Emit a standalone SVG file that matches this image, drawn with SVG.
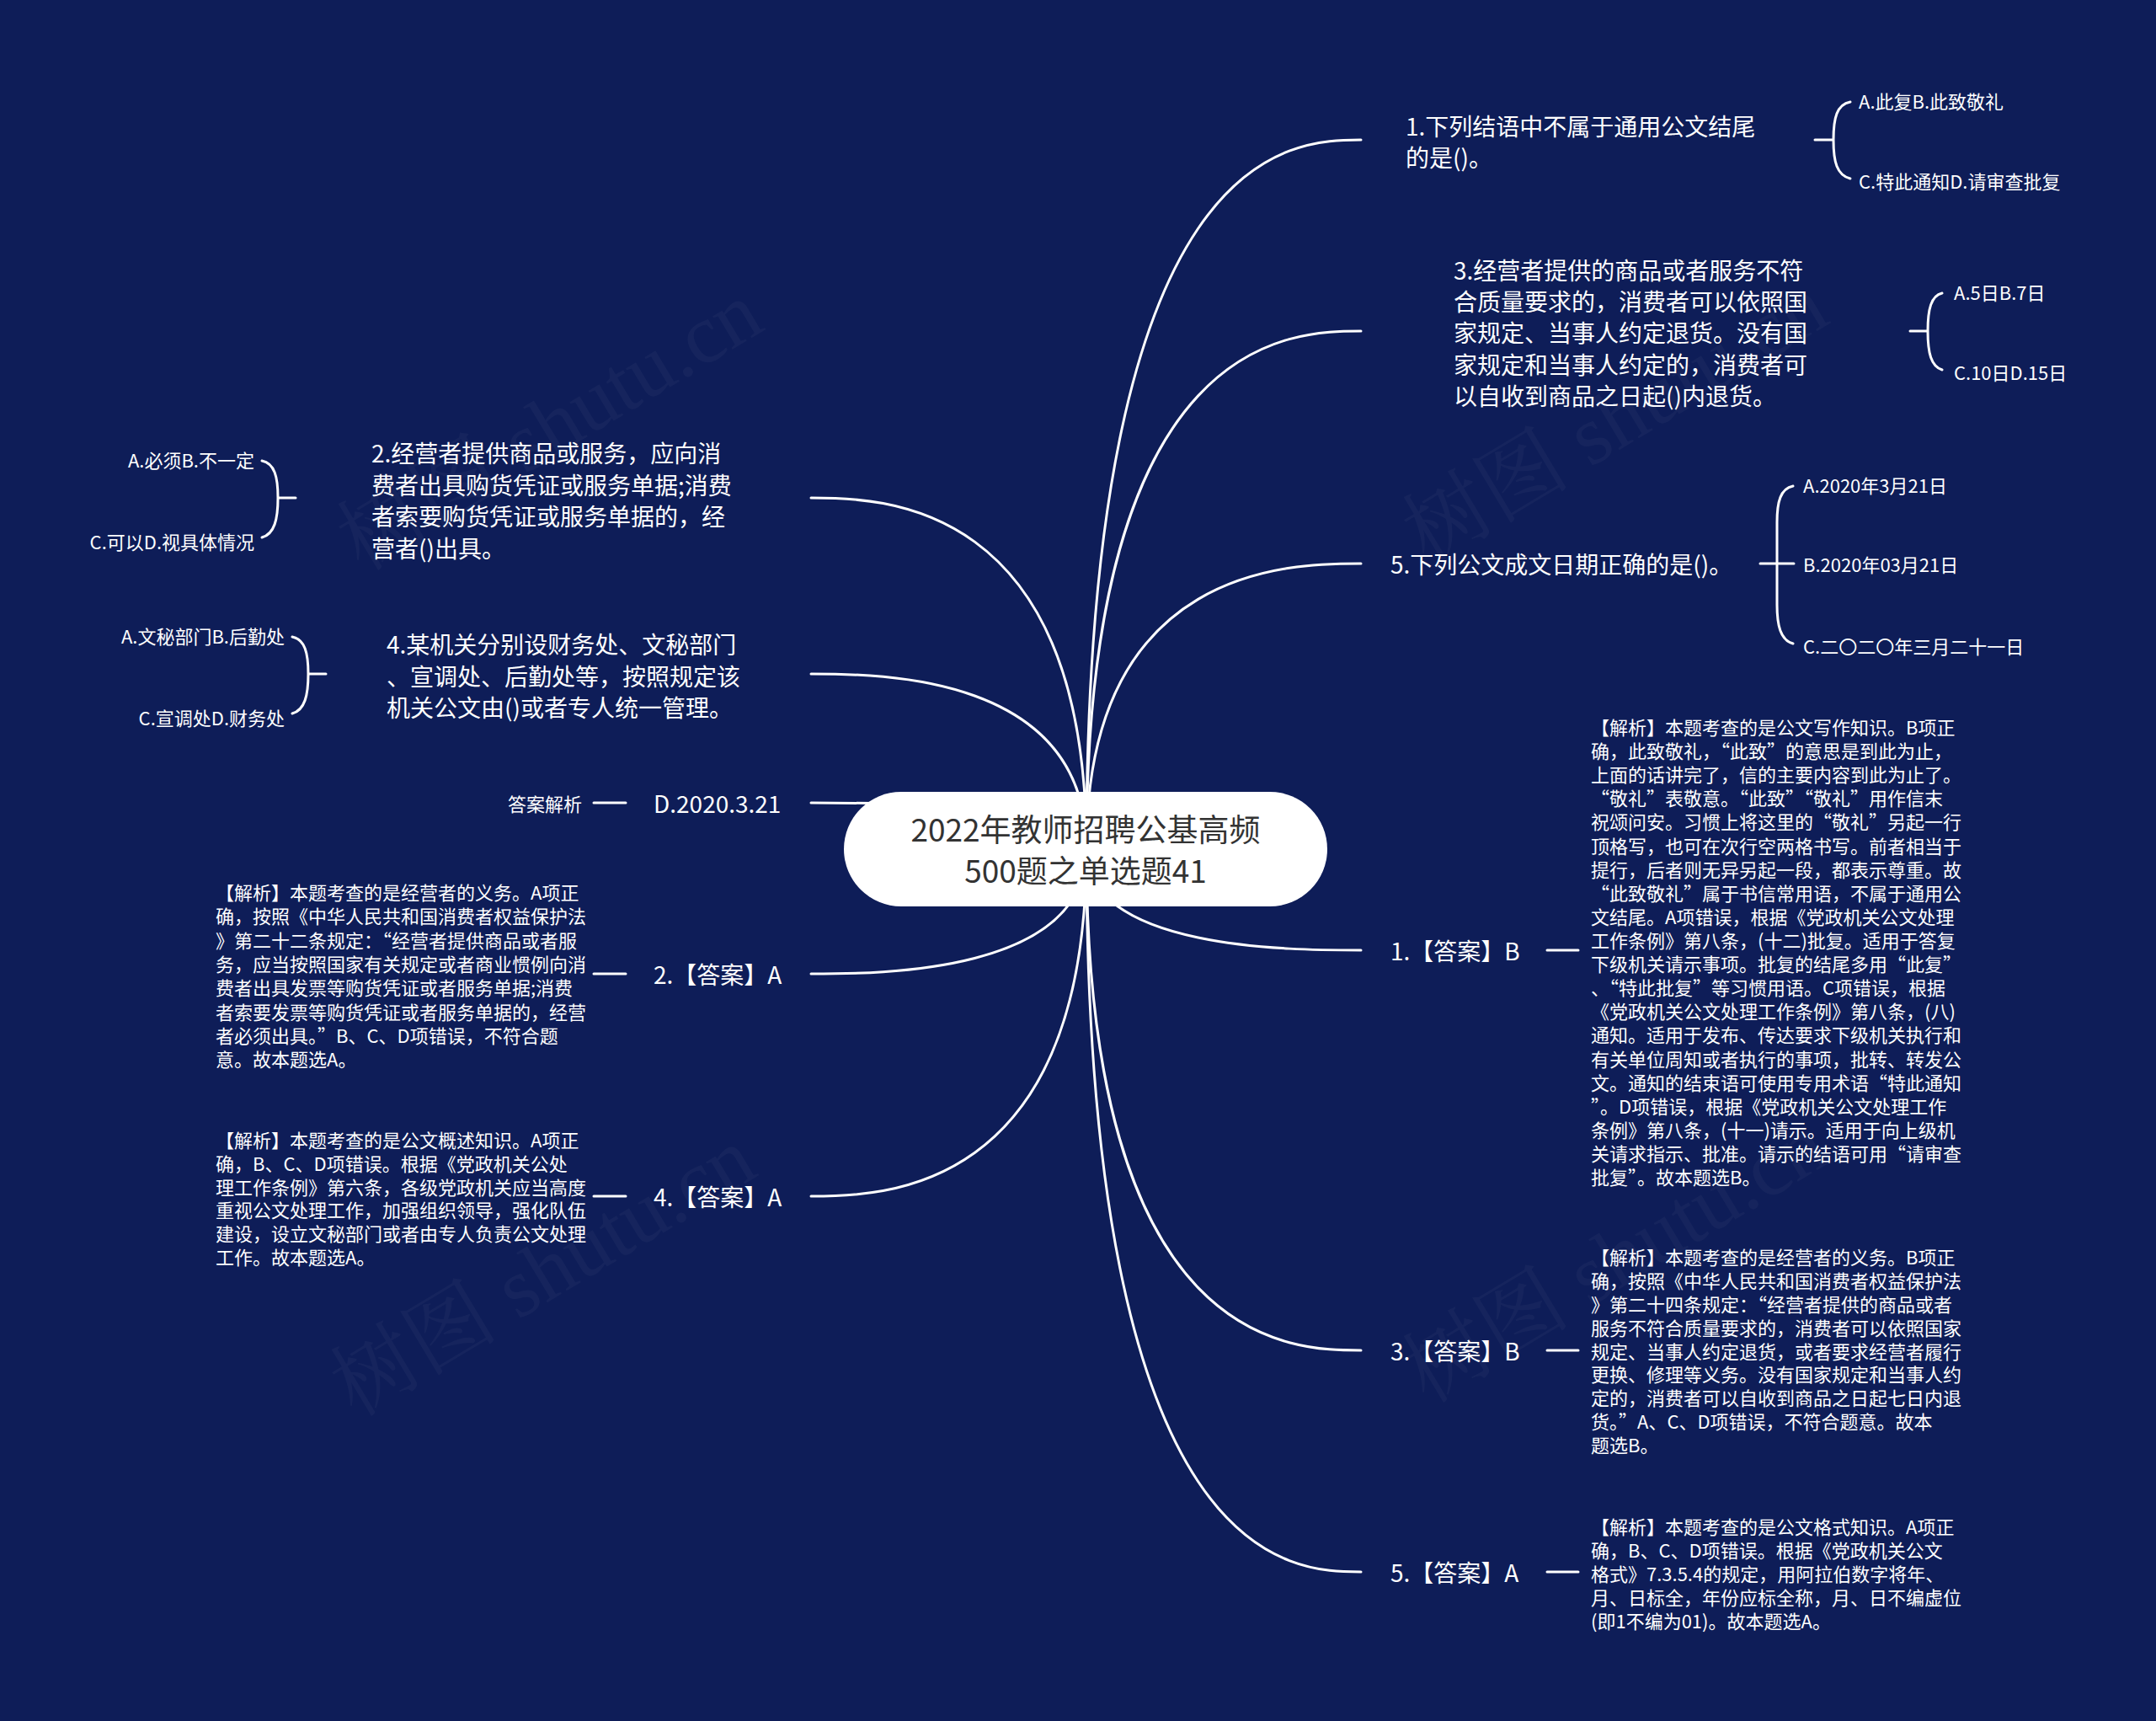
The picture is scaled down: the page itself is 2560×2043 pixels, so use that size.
<svg xmlns="http://www.w3.org/2000/svg" width="2560" height="2043" viewBox="0 0 2560 2043">
<style>
text{font-family:"Noto Sans CJK SC","Noto Sans",sans-serif;dominant-baseline:central}
.ln{fill:none;stroke:#fff;stroke-width:3;stroke-linecap:round}
.q{font-size:28px;fill:#fff}
.s{font-size:22px;fill:#fff}
.wm{font-family:"Liberation Serif","Noto Serif CJK SC","Noto Sans CJK SC",serif;font-size:100px;fill:#fff;fill-opacity:0.035}
</style>
<rect x="0" y="0" width="2560" height="2043" fill="#0e1d58"/>
<g id="watermarks">
<text class="wm" transform="translate(653,506) rotate(-31)" text-anchor="middle">树图 shutu.cn</text>
<text class="wm" transform="translate(645,1510) rotate(-31)" text-anchor="middle">树图 shutu.cn</text>
<text class="wm" transform="translate(1918,498) rotate(-31)" text-anchor="middle">树图 shutu.cn</text>
<text class="wm" transform="translate(1918,1494) rotate(-31)" text-anchor="middle">树图 shutu.cn</text>
</g>
<g id="connectors">
<path class="ln" d="M1290 1008 C1290 166 1535 166 1616 166"/>
<path class="ln" d="M1290 1008 C1290 393 1535 393 1616 393"/>
<path class="ln" d="M1290 1008 C1290 669 1535 669 1616 669"/>
<path class="ln" d="M1290 1008 C1290 1128 1535 1128 1616 1128"/>
<path class="ln" d="M1290 1008 C1290 1603 1535 1603 1616 1603"/>
<path class="ln" d="M1290 1008 C1290 1866 1535 1866 1616 1866"/>
<path class="ln" d="M1290 1008 C1290 591 1045 591 963 591"/>
<path class="ln" d="M1290 1008 C1290 800 1045 800 963 800"/>
<path class="ln" d="M1290 1008 C1290 953 1045 953 963 953"/>
<path class="ln" d="M1290 1008 C1290 1156 1045 1156 963 1156"/>
<path class="ln" d="M1290 1008 C1290 1420 1045 1420 963 1420"/>
<path class="ln" d="M2155 166 H2177 M2197 121 C2181 124 2177 140 2177 166 C2177 192 2181 208 2197 212"/>
<path class="ln" d="M2268 393 H2289 M2306 348 C2293 351 2289 367 2289 393 C2289 419 2293 435 2306 439"/>
<path class="ln" d="M2090 669 H2130 M2129 577 C2114 580 2110 596 2110 620 L2110 718 C2110 742 2114 760 2129 764"/>
<path class="ln" d="M1837 1128 H1874"/>
<path class="ln" d="M1837 1603 H1874"/>
<path class="ln" d="M1837 1866 H1874"/>
<path class="ln" d="M351 591 H330 M311 547 C326 550 330 566 330 591 C330 616 326 634 311 638"/>
<path class="ln" d="M387 800 H366 M347 756 C362 759 366 775 366 800 C366 825 362 843 347 847"/>
<path class="ln" d="M705 953 H743"/>
<path class="ln" d="M705 1156 H743"/>
<path class="ln" d="M705 1420 H743"/>
</g>
<g id="root">
<rect x="1002" y="940" width="574" height="136" rx="68" fill="#fff"/>
<text x="1289" y="983" text-anchor="middle" font-size="37" fill="#333">2022年教师招聘公基高频</text>
<text x="1289" y="1032" text-anchor="middle" font-size="37" fill="#333">500题之单选题41</text>
</g>
<g id="q1">
<text class="q" x="1669" y="149">1.下列结语中不属于通用公文结尾</text>
<text class="q" x="1669" y="186">的是()。</text>
</g>
<g id="q1a"><text class="s" x="2207" y="119">A.此复B.此致敬礼</text></g>
<g id="q1c"><text class="s" x="2207" y="214">C.特此通知D.请审查批复</text></g>
<g id="q3">
<text class="q" x="1726" y="320">3.经营者提供的商品或者服务不符</text>
<text class="q" x="1726" y="357">合质量要求的，消费者可以依照国</text>
<text class="q" x="1726" y="394">家规定、当事人约定退货。没有国</text>
<text class="q" x="1726" y="432">家规定和当事人约定的，消费者可</text>
<text class="q" x="1726" y="469">以自收到商品之日起()内退货。</text>
</g>
<g id="q3a"><text class="s" x="2320" y="346">A.5日B.7日</text></g>
<g id="q3c"><text class="s" x="2320" y="441">C.10日D.15日</text></g>
<g id="q5"><text class="q" x="1651" y="669">5.下列公文成文日期正确的是()。</text></g>
<g id="q5a"><text class="s" x="2141" y="575">A.2020年3月21日</text></g>
<g id="q5b"><text class="s" x="2141" y="669">B.2020年03月21日</text></g>
<g id="q5c"><text class="s" x="2141" y="766">C.二〇二〇年三月二十一日</text></g>
<g id="a1"><text class="q" x="1651" y="1128">1.【答案】B</text></g>
<g id="a1x">
<text class="s" x="1889" y="862">【解析】本题考查的是公文写作知识。B项正</text>
<text class="s" x="1889" y="890">确，此致敬礼，“此致”的意思是到此为止，</text>
<text class="s" x="1889" y="918">上面的话讲完了，信的主要内容到此为止了。</text>
<text class="s" x="1889" y="946">“敬礼”表敬意。“此致”“敬礼”用作信末</text>
<text class="s" x="1889" y="974">祝颂问安。习惯上将这里的“敬礼”另起一行</text>
<text class="s" x="1889" y="1003">顶格写，也可在次行空两格书写。前者相当于</text>
<text class="s" x="1889" y="1031">提行，后者则无异另起一段，都表示尊重。故</text>
<text class="s" x="1889" y="1059">“此致敬礼”属于书信常用语，不属于通用公</text>
<text class="s" x="1889" y="1087">文结尾。A项错误，根据《党政机关公文处理</text>
<text class="s" x="1889" y="1115">工作条例》第八条，(十二)批复。适用于答复</text>
<text class="s" x="1889" y="1143">下级机关请示事项。批复的结尾多用“此复”</text>
<text class="s" x="1889" y="1171">、“特此批复”等习惯用语。C项错误，根据</text>
<text class="s" x="1889" y="1199">《党政机关公文处理工作条例》第八条，(八)</text>
<text class="s" x="1889" y="1227">通知。适用于发布、传达要求下级机关执行和</text>
<text class="s" x="1889" y="1256">有关单位周知或者执行的事项，批转、转发公</text>
<text class="s" x="1889" y="1284">文。通知的结束语可使用专用术语“特此通知</text>
<text class="s" x="1889" y="1312">”。D项错误，根据《党政机关公文处理工作</text>
<text class="s" x="1889" y="1340">条例》第八条，(十一)请示。适用于向上级机</text>
<text class="s" x="1889" y="1368">关请求指示、批准。请示的结语可用“请审查</text>
<text class="s" x="1889" y="1396">批复”。故本题选B。</text>
</g>
<g id="a3"><text class="q" x="1651" y="1603">3.【答案】B</text></g>
<g id="a3x">
<text class="s" x="1889" y="1491">【解析】本题考查的是经营者的义务。B项正</text>
<text class="s" x="1889" y="1519">确，按照《中华人民共和国消费者权益保护法</text>
<text class="s" x="1889" y="1547">》第二十四条规定：“经营者提供的商品或者</text>
<text class="s" x="1889" y="1575">服务不符合质量要求的，消费者可以依照国家</text>
<text class="s" x="1889" y="1603">规定、当事人约定退货，或者要求经营者履行</text>
<text class="s" x="1889" y="1630">更换、修理等义务。没有国家规定和当事人约</text>
<text class="s" x="1889" y="1658">定的，消费者可以自收到商品之日起七日内退</text>
<text class="s" x="1889" y="1686">货。”A、C、D项错误，不符合题意。故本</text>
<text class="s" x="1889" y="1714">题选B。</text>
</g>
<g id="a5"><text class="q" x="1651" y="1866">5.【答案】A</text></g>
<g id="a5x">
<text class="s" x="1889" y="1811">【解析】本题考查的是公文格式知识。A项正</text>
<text class="s" x="1889" y="1839">确，B、C、D项错误。根据《党政机关公文</text>
<text class="s" x="1889" y="1867">格式》7.3.5.4的规定，用阿拉伯数字将年、</text>
<text class="s" x="1889" y="1895">月、日标全，年份应标全称，月、日不编虚位</text>
<text class="s" x="1889" y="1923">(即1不编为01)。故本题选A。</text>
</g>
<g id="q2">
<text class="q" x="441" y="537">2.经营者提供商品或服务，应向消</text>
<text class="q" x="441" y="575">费者出具购货凭证或服务单据;消费</text>
<text class="q" x="441" y="612">者索要购货凭证或服务单据的，经</text>
<text class="q" x="441" y="650">营者()出具。</text>
</g>
<g id="q2a"><text class="s" x="302" y="545" text-anchor="end">A.必须B.不一定</text></g>
<g id="q2c"><text class="s" x="302" y="642" text-anchor="end">C.可以D.视具体情况</text></g>
<g id="q4">
<text class="q" x="459" y="764">4.某机关分别设财务处、文秘部门</text>
<text class="q" x="459" y="802">、宣调处、后勤处等，按照规定该</text>
<text class="q" x="459" y="839">机关公文由()或者专人统一管理。</text>
</g>
<g id="q4a"><text class="s" x="338" y="754" text-anchor="end">A.文秘部门B.后勤处</text></g>
<g id="q4c"><text class="s" x="338" y="851" text-anchor="end">C.宣调处D.财务处</text></g>
<g id="d"><text class="q" x="776" y="953">D.2020.3.21</text></g>
<g id="dx"><text class="s" x="691" y="953" text-anchor="end">答案解析</text></g>
<g id="a2"><text class="q" x="776" y="1156">2.【答案】A</text></g>
<g id="a2x">
<text class="s" x="256" y="1058">【解析】本题考查的是经营者的义务。A项正</text>
<text class="s" x="256" y="1086">确，按照《中华人民共和国消费者权益保护法</text>
<text class="s" x="256" y="1115">》第二十二条规定：“经营者提供商品或者服</text>
<text class="s" x="256" y="1143">务，应当按照国家有关规定或者商业惯例向消</text>
<text class="s" x="256" y="1171">费者出具发票等购货凭证或者服务单据;消费</text>
<text class="s" x="256" y="1200">者索要发票等购货凭证或者服务单据的，经营</text>
<text class="s" x="256" y="1228">者必须出具。”B、C、D项错误，不符合题</text>
<text class="s" x="256" y="1256">意。故本题选A。</text>
</g>
<g id="a4"><text class="q" x="776" y="1420">4.【答案】A</text></g>
<g id="a4x">
<text class="s" x="256" y="1352">【解析】本题考查的是公文概述知识。A项正</text>
<text class="s" x="256" y="1380">确，B、C、D项错误。根据《党政机关公处</text>
<text class="s" x="256" y="1408">理工作条例》第六条，各级党政机关应当高度</text>
<text class="s" x="256" y="1435">重视公文处理工作，加强组织领导，强化队伍</text>
<text class="s" x="256" y="1463">建设，设立文秘部门或者由专人负责公文处理</text>
<text class="s" x="256" y="1491">工作。故本题选A。</text>
</g>
</svg>
